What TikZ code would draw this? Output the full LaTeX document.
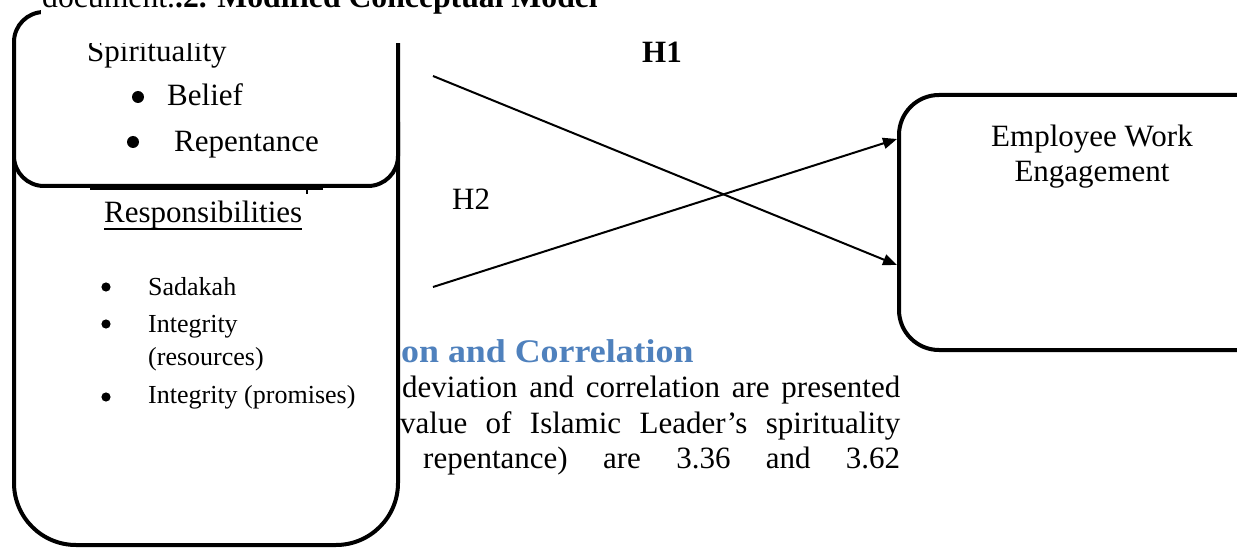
\documentclass[tikz,border=0pt]{standalone}
\usepackage{fontspec}
\setmainfont{Liberation Serif}
\usetikzlibrary{arrows.meta}
\definecolor{headblue}{HTML}{4F81BD}
\tikzset{
  box/.style={draw=black, line width=4pt, fill=white, inner sep=0pt, outer sep=0pt},
  big/.style={font=\fontsize{31}{36}\selectfont, inner sep=0pt, anchor=base west},
  small/.style={font=\fontsize{26}{30}\selectfont, inner sep=0pt, anchor=base west},
  arr/.style={line width=2pt, -{Triangle[length=14pt,width=11pt]}},
  bul/.style={fill=black}
}
\begin{document}
\begin{tikzpicture}[x=1pt,y=-1pt]
\useasboundingbox (0,0) rectangle (1237,548);
\fill[white] (0,0) rectangle (1237,548);
% background document text
\node[big, font=\bfseries\fontsize{33}{38}\selectfont, text=headblue] (head) at (401,362) {\scalebox{1.087}[1]{on and Correlation}};
\node[big] (p1) at (402,397) {\hbox to 498pt{deviation\hfill and\hfill correlation\hfill are\hfill presented}};
\node[big] (p2) at (400,433) {\hbox to 500pt{value\hfill of\hfill Islamic\hfill Leader’s\hfill spirituality}};
\node[big] (p3) at (423,468) {\hbox to 477pt{repentance)\hfill are\hfill 3.36\hfill and\hfill 3.62}};
% lower left box
\node[box, rounded corners=62pt, minimum width=384pt, minimum height=485pt] (resbox) at (206,302.5) {};
\draw[line width=2pt] (90,189.5) -- (323,189.5);
\draw[line width=2.2pt] (307,189) -- (307,194);
\node[big] (resp) at (104,223) {Responsibilities};
\draw[line width=1.6pt] ([yshift=-6pt]resp.base west) -- ([yshift=-6pt]resp.base east);
\fill[bul] (106,287) circle (4.6);
\node[small] (sad) at (148,295) {Sadakah};
\fill[bul] (106,324) circle (4.6);
\node[small] (int1) at (148,332) {Integrity};
\node[small] (int1b) at (148,365) {(resources)};
\fill[bul] (106,397) circle (4.6);
\node[small] (int2) at (148,403) {Integrity (promises)};
% upper left box
\node[box, rounded corners=30pt, minimum width=384pt, minimum height=174pt] (spbox) at (206,99) {};
\node[big] (spir) at (87,62) {Spirituality};
\fill[bul] (138,97) circle (6);
\node[big] (bel) at (167,106) {Belief};
\fill[bul] (133,142) circle (6);
\node[big] (rep) at (174,152) {Repentance};
% title line mask
\fill[white] (41,-5) rectangle (620,43);
\node[big, font=\fontsize{31.7}{36}\selectfont] (title) at (42,8) {document.\textbf{.2. Modified Conceptual Model}};
% hypotheses
\node[big, font=\bfseries\fontsize{31}{36}\selectfont] (h1) at (642,63) {H1};
\node[big] (h2) at (452,210) {H2};
% right box
\node[box, rounded corners=40pt, minimum width=391pt, minimum height=255pt] (eng) at (1094.5,222.5) {};
\node[big, anchor=base] (eng1) at (1092,147) {Employee Work};
\node[big, anchor=base] (eng2) at (1092,182) {Engagement};
% arrows
\coordinate (a1s) at (433,76);
\coordinate (a1e) at (897,265);
\coordinate (a2s) at (433,287);
\coordinate (a2e) at (897,139);
\draw[arr] (a1s) -- (a1e);
\draw[arr] (a2s) -- (a2e);
\end{tikzpicture}
\end{document}
